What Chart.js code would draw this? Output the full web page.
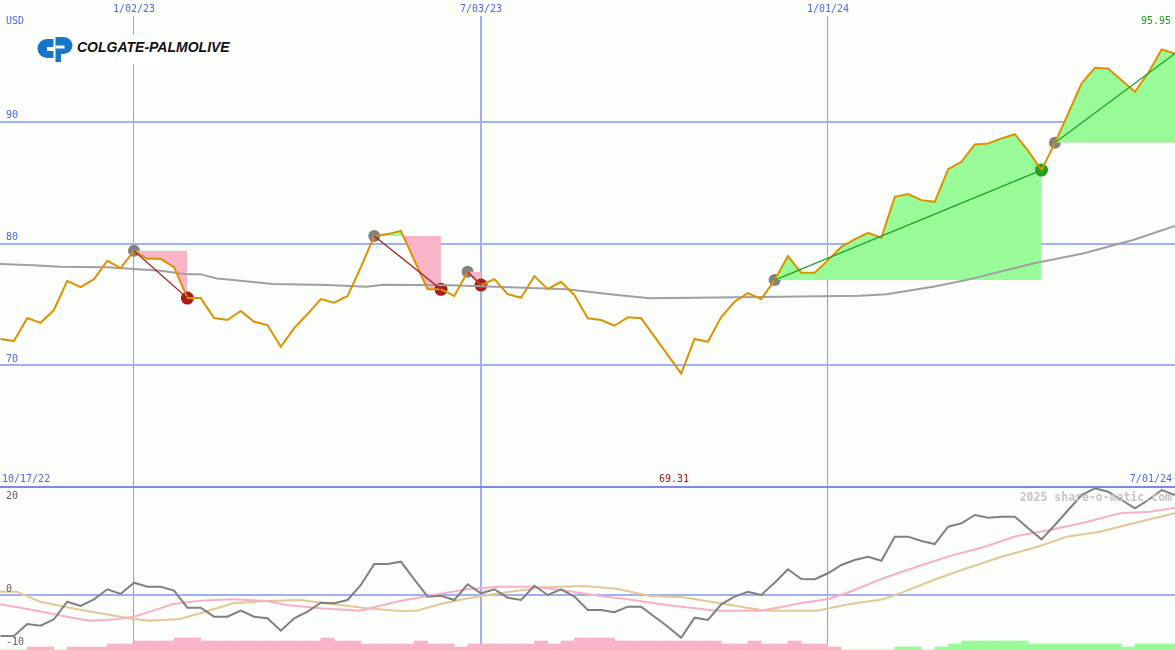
<!DOCTYPE html>
<html><head><meta charset="utf-8">
<script src="https://cdn.jsdelivr.net/npm/chart.js@4.4.1/dist/chart.umd.min.js"></script>
<style>
html,body{margin:0;padding:0;background:#fcfefc;}
#wrap{position:relative;width:1175px;height:650px;overflow:hidden;background:#fcfefc;font-family:'DejaVu Sans Mono',monospace;}
#top{position:absolute;left:0;top:0;}
#bot{position:absolute;left:0;top:487px;}
#sep{position:absolute;left:0;top:486px;width:1175px;height:2px;background:#7b8ae8;}
.t{position:absolute;font-size:10px;line-height:12px;white-space:nowrap;}
#logo{position:absolute;left:34px;top:34px;width:202px;height:30px;background:#ffffff;}
#logo svg{position:absolute;left:2px;top:1px;}
#logo .name{position:absolute;left:43px;top:6px;font:italic bold 14px/14px 'Liberation Sans',Arial,sans-serif;color:#111;white-space:nowrap;}
#wm{position:absolute;right:3px;top:490px;font:bold 11.5px/14px 'DejaVu Sans Mono',monospace;color:#c4c4c4;white-space:nowrap;}
</style>
</head><body>
<div id="wrap">
  <canvas id="top" width="1175" height="487"></canvas>
  <canvas id="bot" width="1175" height="163"></canvas>
  <div id="sep"></div>
  <div id="logo">
    <svg width="38" height="28" viewBox="0 0 38 28">
      <path d="M17.5,4 L11,4 A9.5,9.5 0 0 0 11,23 L17.5,23 L17.5,16 L11,16 L11,12 L17.5,12 Z" fill="#1677c9"/>
      <path d="M19.5,2 L27.5,2 A9,8.5 0 0 1 27.5,19 L25,19 L25,27 L19.5,27 Z" fill="#1677c9"/>
      <rect x="19.5" y="10.5" width="9" height="3" fill="#fff"/>
    </svg>
    <div class="name">COLGATE-PALMOLIVE</div>
  </div>
  <div class="t" id="usd" style="left:6px;top:15px;color:#5064f0;"></div>
  <div class="t" id="maxLbl" style="right:4px;top:15px;color:#229922;"></div>
  <div class="t" id="startLbl" style="left:2px;top:473px;color:#5064f0;"></div>
  <div class="t" id="minLbl" style="top:473px;color:#a01818;"></div>
  <div class="t" id="endLbl" style="right:3px;top:473px;color:#5064f0;"></div>
  <div id="wm"></div>
</div>
<script>
// ---------- data (week index 0 = 1/02/23) ----------
const firstWeek = -10;
const price = [72.16,71.99,73.88,73.49,74.54,76.94,76.43,77.08,78.59,77.99,
 79.41,78.75,78.75,78.07,75.52,75.52,73.88,73.72,74.46,73.58,
 73.31,71.52,73.06,74.21,75.44,75.14,75.69,78.07,80.62,80.78,
 81.05,78.64,76.24,76.24,75.69,77.68,76.59,77.08,75.85,75.55,
 77.33,76.26,76.86,75.77,73.86,73.72,73.25,73.94,73.86,72.35,
 70.84,69.31,72.16,71.93,73.96,75.22,75.93,75.44,77.00,78.97,
 77.60,77.60,78.64,79.74,80.34,80.89,80.48,83.84,84.07,83.57,
 83.43,86.12,86.72,88.15,88.23,88.64,88.99,87.62,86.04,88.28,
 90.69,93.16,94.44,94.36,93.43,92.47,94.03,95.95,95.62];

const maWeeks = [-10.04,-7.57,-5.54,-2.04,0,1.99,3.95,4.95,6.2,7.42,10.41,14.45,17.42,18.66,23.68,28.68,32.42,36.2,38.66,43.66,48.4,54.4,56.39,59.87,62.37,67.36,71.11,74.85,78];
const maVals = [78.32,78.23,78.09,78.05,77.91,77.77,77.49,77.49,77.14,77.0,76.67,76.59,76.45,76.62,76.57,76.4,76.24,75.77,75.5,75.58,75.63,75.71,75.83,76.45,77.0,78.37,79.19,80.29,81.44];

const tradeEntry = [0, 18, 25, 48, 69];
const tradeExit  = [4, 23, 26, 68, 78];
const tradeOpen  = [false, false, false, false, true];

const momentum = [-7.59,-7.59,-5.37,-5.69,-4.50,-1.24,-2.04,-0.80,1.06,0.19,
 2.28,1.54,1.54,0.80,-2.35,-2.35,-4.02,-4.02,-2.91,-4.02,
 -4.31,-6.61,-4.31,-3.09,-1.43,-1.54,-0.93,1.85,5.74,5.74,
 6.17,2.91,-0.31,-0.13,-0.93,1.98,0.31,1.06,-0.50,-0.93,
 1.72,0.00,1.06,-0.31,-2.78,-2.78,-3.20,-2.17,-2.17,-4.02,
 -5.87,-7.91,-4.20,-4.63,-1.72,-0.31,0.61,0.00,2.28,4.76,
 2.96,2.91,4.02,5.56,6.48,7.09,6.35,10.80,10.80,10.00,
 9.44,12.65,13.28,14.81,14.31,14.50,14.50,12.35,10.31,12.96,
 15.74,18.52,19.76,19.13,17.59,16.06,17.59,19.44,18.52];

const pinkWeeks = [-10.04,-7.57,-5.04,-3.3,-1.3,0,1.2,2.94,4.95,7.42,9.94,11.44,13.94,16.92,18.68,19.93,22.43,24.93,27.42,29.92,32.42,34.92,37.41,39.91,43.66,46.9,48.65,49.9,52.02,53.65,56.14,58.65,61.14,63.64,66.14,68.63,71.13,73.88,76.13,78];
const pinkVals = [-1.72,-2.78,-4.02,-4.76,-4.5,-4.02,-3.09,-1.67,-1.06,-0.8,-1.11,-1.85,-2.46,-2.91,-1.85,-1.11,0,1.06,1.54,1.54,0.8,-0.19,-0.93,-1.85,-2.91,-2.91,-2.17,-1.54,-0.74,0.61,3.09,5.24,7.22,8.83,10.93,12.04,13.39,15.13,15.43,16.17];

const tanWeeks = [-10.04,-8.79,-7.04,-5.04,-2.55,0,1.2,3.45,4.95,7.44,9.94,12.44,14.93,17.44,19.93,21.18,23.18,25.68,28.17,30.67,33.67,36.17,38.66,41.16,43.66,46.16,47.41,49.9,51.15,53.65,56.14,57.4,59.9,62.39,64.89,67.89,69.89,72.38,74.88,78];
const tanVals = [0.61,0.61,-1.24,-2.28,-3.39,-4.44,-4.76,-4.44,-3.39,-1.54,-1.11,-0.93,-1.72,-2.46,-2.96,-2.91,-1.54,-0.31,0.61,1.43,1.67,1.17,-0.19,-0.43,-1.43,-2.46,-2.91,-2.91,-2.91,-1.67,-0.8,0.31,2.78,4.94,6.98,9.07,10.8,11.72,13.28,15.13];

const hist = [0,0,-1,-1,0,-1,-1,-1,-2,-2,
 -3,-3,-3,-4,-4,-3,-3,-3,-3,-3,
 -3,-3,-3,-3,-4,-3,-3,-2,-2,-2,
 -2,-3,-2,-2,-1,-2,-2,-2,-2,-2,
 -3,-2,-3,-4,-4,-4,-3,-3,-3,-3,
 -3,-3,-3,-3,-2,-2,-3,-2,-2,-3,
 -2,-2,-1,0,0,0,0,1,1,0,
 1,2,3,3,3,3,3,2,2,2,
 2,2,2,2,1,2,2,2];

const xTickWeeks = [0, 26, 52];
const xTickLabels = ['1/02/23', '7/03/23', '1/01/24'];
const priceTicks = [70, 80, 90];
const oscTicks = [20, 0, -10];
const unitLabel = 'USD';
const rangeStartLabel = '10/17/22';
const rangeEndLabel = '7/01/24';
const watermark = '2025 share-o-matic.com';

// ---------- styles ----------
const xMin = -10.04, xMax = 78.0;
const gridBlue = '#a0b0f0', vGridBlue = '#8c9ef6', tickBlue = '#5064f0';
const cPrice = '#dc9100', cMA = '#a0a0a0';
const cPinkFill = '#f9b4c8', cGreenFill = '#98fb98';
const cEntry = '#808080', cLoss = '#a81c1c', cGain = '#22a022';
const monoFont = {family: "'DejaVu Sans Mono', monospace", size: 10};

const weeks = price.map((_, i) => firstWeek + i);
const pts = (xs, ys) => xs.map((x, i) => ({x, y: ys[i]}));
const pAt = k => price[k - firstWeek];
const zeroPad = s => { s.paddingLeft = s.paddingRight = s.paddingTop = s.paddingBottom = 0; };

// ---------- top chart datasets ----------
const ds = [];
tradeEntry.forEach((e, i) => {
  const x = tradeExit[i];
  const gain = pAt(x) >= pAt(e);
  const ks = weeks.filter(k => k >= e && k <= x);
  ds.push({ data: ks.map(k => ({x: k, y: pAt(k)})), borderWidth: 0, borderColor: 'rgba(0,0,0,0)', pointRadius: 0,
    fill: {target: {value: pAt(e)}, above: cGreenFill, below: cPinkFill}, order: 5 });
  ds.push({ data: [{x: e, y: pAt(e)}, {x: x, y: pAt(x)}], borderColor: gain ? cGain : cLoss, borderWidth: 1.3, pointRadius: 0, fill: false, order: 0 });
  ds.push({ data: [{x: e, y: pAt(e)}], showLine: false, pointRadius: 6, pointHoverRadius: 0, pointBackgroundColor: cEntry, pointBorderWidth: 0, order: 6 });
  if (!tradeOpen[i]) {
    ds.push({ data: [{x: x, y: pAt(x)}], showLine: false, pointRadius: 6.5, pointHoverRadius: 0, pointBackgroundColor: gain ? cGain : cLoss, pointBorderWidth: 0, order: 4 });
  }
});
ds.push({ data: pts(maWeeks, maVals), borderColor: cMA, borderWidth: 2, pointRadius: 0, fill: false, order: 3 });
ds.push({ data: pts(weeks, price), borderColor: cPrice, borderWidth: 2, pointRadius: 0, fill: false, order: 1 });

const xGrid = { color: c => (c.tick && c.tick.value === 26) ? gridBlue : vGridBlue, lineWidth: c => (c.tick && c.tick.value === 26) ? 2 : 1, drawTicks: false, offset: false };

new Chart(document.getElementById('top'), {
  type: 'line',
  data: { datasets: ds },
  options: {
    responsive: false, animation: false, devicePixelRatio: 1,
    layout: { padding: 0, autoPadding: false },
    plugins: { legend: { display: false }, tooltip: { enabled: false } },
    elements: { line: { tension: 0 } },
    scales: {
      x: { type: 'linear', position: 'top', min: xMin, max: xMax, offset: false,
        afterBuildTicks: s => { s.ticks = xTickWeeks.map(v => ({value: v})); },
        afterFit: s => { s.height = 16; zeroPad(s); },
        ticks: { callback: v => xTickLabels[xTickWeeks.indexOf(v)], color: tickBlue, font: monoFont, padding: 1, maxRotation: 0, autoSkip: false },
        grid: xGrid, border: { display: false } },
      y: { min: 60, max: 98.7, position: 'left',
        afterBuildTicks: s => { s.ticks = priceTicks.map(v => ({value: v})); },
        afterFit: s => { s.width = 0; zeroPad(s); },
        ticks: { mirror: true, padding: 6, labelOffset: -6, color: tickBlue, font: monoFont, callback: v => String(v) },
        grid: { color: gridBlue, lineWidth: 2, drawTicks: false }, border: { display: false } }
    }
  }
});

// ---------- bottom chart ----------
const oscLabelShift = [9, -6, -7];
const oscLabels = {
  id: 'oscLabels',
  afterDraw(chart) {
    const {ctx, scales: {y}} = chart;
    ctx.save();
    ctx.font = "10px 'DejaVu Sans Mono', monospace";
    ctx.fillStyle = '#606060';
    ctx.textBaseline = 'middle';
    ctx.textAlign = 'left';
    oscTicks.forEach((v, i) => ctx.fillText(String(v), 6, y.getPixelForValue(v) + oscLabelShift[i]));
    ctx.restore();
  }
};

new Chart(document.getElementById('bot'), {
  type: 'line',
  data: { datasets: [
    { data: pts(weeks, momentum), borderColor: '#808080', borderWidth: 2, pointRadius: 0, order: 1 },
    { data: pts(pinkWeeks, pinkVals), borderColor: '#f8b0c8', borderWidth: 2, pointRadius: 0, order: 2 },
    { data: pts(tanWeeks, tanVals), borderColor: '#e2c894', borderWidth: 2, pointRadius: 0, order: 3 },
    { type: 'bar', yAxisID: 'yh', data: hist.map((v, i) => ({x: firstWeek + i + 0.5, y: Math.abs(v)})),
      backgroundColor: hist.map(v => v < 0 ? cPinkFill : cGreenFill), barPercentage: 1, categoryPercentage: 1, grouped: false, borderWidth: 0, order: 4 }
  ]},
  options: {
    responsive: false, animation: false, devicePixelRatio: 1,
    layout: { padding: 0, autoPadding: false },
    plugins: { legend: { display: false }, tooltip: { enabled: false } },
    elements: { line: { tension: 0 } },
    scales: {
      x: { type: 'linear', position: 'top', min: xMin, max: xMax, offset: false,
        afterBuildTicks: s => { s.ticks = xTickWeeks.map(v => ({value: v})); },
        afterFit: s => { s.height = 0; zeroPad(s); },
        ticks: { display: false }, grid: xGrid, border: { display: false } },
      y: { min: -10.19, max: 20, position: 'left',
        afterBuildTicks: s => { s.ticks = oscTicks.map(v => ({value: v})); },
        afterFit: s => { s.width = 0; zeroPad(s); },
        ticks: { display: false },
        grid: { color: c => (c.tick && c.tick.value === 0) ? gridBlue : 'rgba(0,0,0,0)', lineWidth: 2, drawTicks: false },
        border: { display: false } },
      yh: { min: 0, max: 54.33, display: false }
    }
  },
  plugins: [oscLabels]
});

// ---------- text annotations ----------
const pMax = Math.max(...price), pMin = Math.min(...price);
document.getElementById('usd').textContent = unitLabel;
document.getElementById('maxLbl').textContent = pMax.toFixed(2);
document.getElementById('startLbl').textContent = rangeStartLabel;
document.getElementById('endLbl').textContent = rangeEndLabel;
const minEl = document.getElementById('minLbl');
minEl.textContent = pMin.toFixed(2);
minEl.style.left = '659px';
document.getElementById('wm').textContent = watermark;
</script>
</body></html>
